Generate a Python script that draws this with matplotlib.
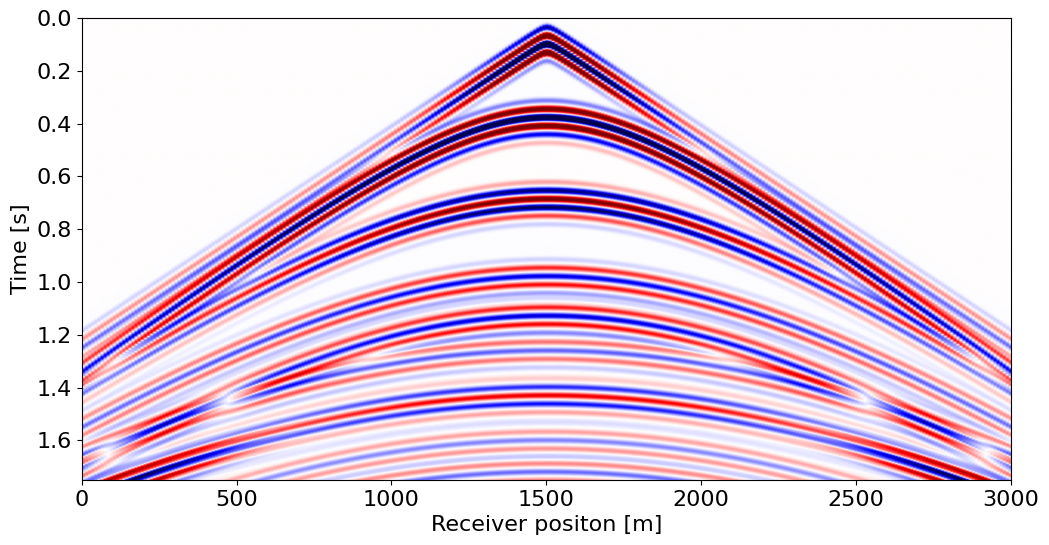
import numpy as np
import matplotlib
matplotlib.use("Agg")
import matplotlib.pyplot as plt

# ---- acquisition geometry ----
receiver_x = np.arange(0.0, 3000.0 + 1, 10.0)      # receiver positions [m]
time_axis = np.arange(0.0, 1.75 + 1e-9, 0.002)     # time samples [s]
source_x = 1500.0

# ---- wavelets read from the apex of the strong events (lobe lag [s], lobe weight) ----
wavelet_lag = [-0.064, -0.032, 0.0, 0.032, 0.064, 0.096]
wavelet_direct = [-0.3, 0.75, -1.0, 0.8, -0.1, 0.0]
wavelet_reflect = [-0.15, 0.75, -1.0, 0.85, -0.32, 0.08]
lobe_width = 0.0105

# ---- events ----
event_t0 = [0.015, 0.376, 0.685, 0.978, 1.128, 1.26, 1.43, 1.43, 1.60, 1.72]       # apex time [s]
event_delay = [0.083, 0.0, 0.0, 0.0, 0.0, 0.0, 0.0, 0.016, 0.0, 0.0]              # extra shift [s]
event_v = [1290, 1170, 1240, 1250, 1180, 1400, 1370, 1370, 1300, 1260]            # moveout velocity [m/s]
event_amp_near = [3.0, 1.8, -1.3, 0.62, 0.65, 0.3, -0.6, 0.0, 0.25, 0.3]         # amplitude at source
event_amp_far = [0.3, 0.45, -0.33, 0.27, 0.3, 0.38, -0.25, 1.15, 0.2, 0.25]      # amplitude at far offset
event_fade_mid = [150, 800, 550, 700, 700, 500, 700, 1080, 800, 800]              # offset of the change [m]
event_fade_width = [100, 300, 250, 300, 300, 250, 250, 110, 300, 300]
event_is_direct = [True, False, False, False, False, False, False, False, False, False]

offset = np.abs(receiver_x - source_x)
T = time_axis[:, None]
gather = np.zeros((time_axis.size, receiver_x.size))
for t0, dl, v, a0, a1, mid, wid, is_dir in zip(event_t0, event_delay, event_v, event_amp_near,
                                               event_amp_far, event_fade_mid, event_fade_width,
                                               event_is_direct):
    t_arr = dl + np.sqrt(t0 ** 2 + (offset / v) ** 2)
    w = 1.0 / (1.0 + np.exp(-(offset - mid) / wid))
    amp = a0 + (a1 - a0) * w
    weights = wavelet_direct if is_dir else wavelet_reflect
    for lag, wt in zip(wavelet_lag, weights):
        gather += amp[None, :] * wt * np.exp(-((T - t_arr[None, :] - lag) / lobe_width) ** 2)

fig = plt.figure(figsize=(10.49, 5.45), dpi=100)
ax = fig.add_axes([0.0779, 0.1193, 0.9638 - 0.0779, 0.967 - 0.1193])
ax.imshow(gather, cmap="seismic", vmin=-1, vmax=1, aspect="auto",
          extent=[receiver_x[0], receiver_x[-1], time_axis[-1], time_axis[0]])
ax.set_xlabel("Receiver positon [m]", fontsize=16)
ax.set_ylabel("Time [s]", fontsize=16)
ax.tick_params(labelsize=16)
fig.savefig("out.png", dpi=100)
